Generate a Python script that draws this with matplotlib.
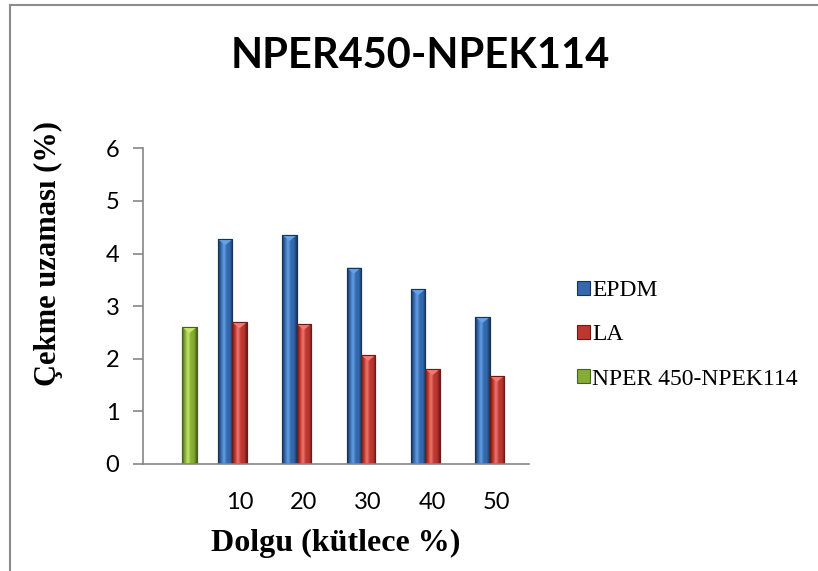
import numpy as np
import matplotlib
matplotlib.use("Agg")
import matplotlib.pyplot as plt
from matplotlib.colors import LinearSegmentedColormap
from matplotlib.patches import Polygon, Rectangle

# Data
categories = ["", "10", "20", "30", "40", "50"]
epdm = [np.nan, 4.27, 4.35, 3.73, 3.32, 2.79]
la = [np.nan, 2.69, 2.66, 2.07, 1.80, 1.67]
nper = [2.60, np.nan, np.nan, np.nan, np.nan, np.nan]
series_names = ["EPDM", "LA", "NPER 450-NPEK114"]

# (edge, base, highlight) colours per series
palettes = [
    ("#173559", "#3568ad", "#65a2e8"),
    ("#6e1a17", "#bd362f", "#f07a73"),
    ("#46611a", "#86ad38", "#c6e768"),
]

fig = plt.figure(figsize=(8.18, 5.71), dpi=100)
ax = fig.add_axes([143 / 818, 1 - 464 / 571, (529 - 143) / 818, (464 - 148.3) / 571])

x = np.arange(len(categories))
n = 3
width = 1.0 / (n + 1.5)
offsets = (np.arange(n) - 1) * width
all_series = [epdm, la, nper]

bar_groups = []
for vals, off, (edge, base, light), name in zip(all_series, offsets, palettes, series_names):
    bars = ax.bar(x + off, vals, width, color=base, edgecolor=edge, linewidth=0.8,
                  label=name, zorder=2)
    bar_groups.append((bars, edge, base, light))

# bevel shading on each bar
grad = np.linspace(0, 1, 64).reshape(1, -1)
bevel_depth = 0.11
for bars, edge, base, light in bar_groups:
    cmap = LinearSegmentedColormap.from_list(
        "bevel", [edge, base, light, base, base, edge])
    for p in bars.patches:
        h = p.get_height()
        if not np.isfinite(h) or h <= 0:
            continue
        x0, w = p.get_x(), p.get_width()
        im = ax.imshow(grad, cmap=cmap, aspect="auto", extent=[x0, x0 + w, 0, h],
                       zorder=2.1, interpolation="bicubic")
        im.set_clip_path(p)
        tri = Polygon([[x0, h], [x0 + w, h], [x0 + w / 2, h - bevel_depth]],
                      closed=True, facecolor=light, edgecolor="none", zorder=2.2)
        ax.add_patch(tri)
        ax.add_patch(Rectangle((x0, 0), w, h, facecolor="none", edgecolor=edge,
                               linewidth=0.8, zorder=2.3))

ax.set_xlim(-0.5, len(categories) - 0.5)
ax.set_ylim(0, 6)

axis_grey = "#868686"
for side in ["top", "right"]:
    ax.spines[side].set_visible(False)
for side in ["left", "bottom"]:
    ax.spines[side].set_color(axis_grey)
    ax.spines[side].set_linewidth(1.2)

ax.set_xticks(x)
ax.set_xticklabels(categories, fontfamily="Lato", fontsize=17)
ax.tick_params(axis="x", length=0, pad=20)
ax.set_yticks(range(0, 7))
ax.set_yticklabels([str(v) for v in range(0, 7)], fontfamily="Lato", fontsize=17)
ax.tick_params(axis="y", length=7, width=1.2, color=axis_grey, pad=10)

fig.text(336 / 818, 1 - 543 / 571, "Dolgu (kütlece %)", fontfamily="Liberation Serif",
         fontweight="bold", fontsize=23, ha="center", va="center")
fig.text(48 / 818, 1 - 253 / 571, "Çekme uzaması (%)", fontfamily="Liberation Serif",
         fontweight="bold", fontsize=22, ha="center", va="center", rotation=90)

fig.text(420 / 818, 1 - 56 / 571, "NPER450-NPEK114", fontfamily="Lato",
         fontweight="bold", fontsize=30, ha="center", va="center")

leg = ax.legend(loc="center left", bbox_to_anchor=(565 / 818, 1 - 335 / 571),
                bbox_transform=fig.transFigure, frameon=False,
                prop={"family": "Liberation Serif", "size": 17},
                handlelength=0.55, handleheight=0.55, handletextpad=0.1,
                labelspacing=0.98, borderpad=0)

# chart area frame
fig.patches.append(Rectangle((10 / 818, -0.05), 1.2, 1 - 5 / 571 + 0.05,
                             transform=fig.transFigure, facecolor="none",
                             edgecolor="#8c8c8c", linewidth=1.5))

fig.savefig("out.png", dpi=100)
